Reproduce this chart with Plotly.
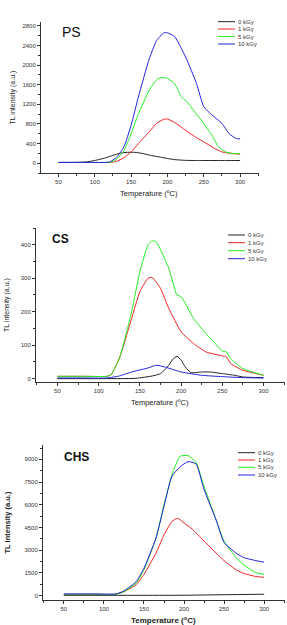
import plotly.graph_objects as go

W, H = 287, 625

# ---------------- Data ----------------
labels = ["0 kGy", "1 kGy", "5 kGy", "10 kGy"]
colors = ["#222222", "#ee2222", "#22ee22", "#2222dd"]

# PS
ps_T0 = [50, 75, 88, 100, 115, 125, 135, 145, 155, 165, 175, 190, 200, 212, 225, 240, 260, 280, 300]
ps_I0 = [15, 18, 25, 55, 110, 160, 205, 222, 222, 200, 165, 125, 95, 70, 58, 55, 55, 55, 55]
ps_T1 = [50, 80, 110, 124, 130, 140, 150, 160, 175, 185, 195, 200, 210, 225, 240, 250, 265, 275, 290, 300]
ps_I1 = [15, 15, 15, 18, 40, 110, 230, 400, 640, 810, 895, 900, 830, 670, 520, 435, 300, 230, 195, 185]
ps_T5 = [50, 80, 110, 122, 130, 140, 150, 160, 175, 185, 192, 200, 210, 218, 222, 225, 240, 250, 260, 270, 280, 290, 300]
ps_I5 = [15, 15, 15, 20, 80, 250, 605, 1000, 1490, 1700, 1750, 1730, 1620, 1380, 1310, 1285, 1000, 810, 600, 340, 230, 200, 195]
ps_T10 = [50, 80, 110, 120, 130, 140, 150, 160, 175, 185, 195, 200, 210, 225, 240, 250, 260, 275, 285, 295, 300]
ps_I10 = [15, 15, 15, 22, 120, 330, 775, 1350, 2130, 2500, 2660, 2660, 2580, 2165, 1625, 1150, 1000, 810, 600, 500, 500]

# CS
cs_T0 = [50, 100, 145, 165, 175, 185, 190, 195, 200, 205, 212, 225, 235, 250, 265, 275, 300]
cs_I0 = [0, 0, 1, 8, 15, 40, 58, 67, 55, 35, 18, 20, 20, 15, 10, 5, 3]
cs_T1 = [50, 80, 110, 115, 125, 140, 150, 160, 165, 175, 185, 200, 215, 230, 250, 255, 260, 275, 300]
cs_I1 = [7, 7, 7, 12, 60, 180, 260, 300, 302, 270, 210, 140, 105, 80, 68, 65, 45, 25, 10]
cs_T5 = [50, 80, 110, 115, 125, 140, 150, 160, 165, 170, 185, 195, 200, 215, 230, 245, 250, 255, 260, 275, 300]
cs_I5 = [7, 7, 7, 12, 60, 200, 320, 400, 412, 408, 330, 250, 245, 180, 135, 95, 82, 80, 60, 30, 10]
cs_T10 = [50, 80, 110, 125, 140, 160, 170, 180, 200, 225, 250, 275, 300]
cs_I10 = [2, 2, 2, 8, 20, 32, 40, 35, 20, 10, 6, 3, 2]

# CHS
chs_T0 = [50, 150, 200, 250, 300]
chs_I0 = [10, 10, 15, 50, 80]
chs_T1 = [50, 90, 115, 125, 140, 150, 165, 175, 185, 192, 200, 210, 225, 250, 265, 275, 290, 300]
chs_I1 = [80, 80, 80, 250, 700, 1400, 2800, 4000, 4900, 5100, 4800, 4400, 3600, 2300, 1700, 1450, 1250, 1200]
chs_T5 = [50, 90, 115, 125, 140, 150, 165, 175, 185, 195, 205, 215, 225, 240, 250, 265, 275, 290, 300]
chs_I5 = [80, 80, 80, 250, 800, 1700, 3800, 6000, 8000, 9200, 9250, 8800, 7200, 5000, 3600, 2500, 2000, 1500, 1400]
chs_T10 = [50, 90, 115, 125, 140, 150, 165, 175, 185, 195, 205, 215, 225, 240, 250, 265, 275, 290, 300]
chs_I10 = [100, 100, 100, 300, 900, 1800, 3800, 5900, 7900, 8500, 8850, 8700, 7000, 5000, 3500, 2800, 2500, 2300, 2200]

panels = [
    dict(name="PS", bold=False, series=[(ps_T0, ps_I0), (ps_T1, ps_I1), (ps_T5, ps_I5), (ps_T10, ps_I10)],
         xr=[26, 326], yr=[-200, 2880], dtick=400, xpx=(41, 259), ypx=(22, 173)),
    dict(name="CS", bold=True, series=[(cs_T0, cs_I0), (cs_T1, cs_I1), (cs_T5, cs_I5), (cs_T10, cs_I10)],
         xr=[24, 326], yr=[-10, 450], dtick=100, xpx=(36, 285), ypx=(228, 382)),
    dict(name="CHS", bold=True, series=[(chs_T0, chs_I0), (chs_T1, chs_I1), (chs_T5, chs_I5), (chs_T10, chs_I10)],
         xr=[24, 326], yr=[-300, 9950], dtick=1500, xpx=(43, 285), ypx=(445, 600)),
]

FONT = "Liberation Sans, Arial, sans-serif"
fig = go.Figure()
annotations = []
shapes = []

def px2x(p):
    return p / W

def px2y(p):
    return 1 - p / H

leg_pos = [
    dict(x0=218, x1=235, rows=[21.7, 29, 36.5, 44]),
    dict(x0=228, x1=245, rows=[235, 242.7, 250.7, 258.7]),
    dict(x0=238, x1=255, rows=[452.7, 460, 467.3, 475]),
]
label_pos = [(60, 32, 14), (50, 239, 12), (62, 457, 12)]
xtitle_y = [193, 402, 620]
ytitle_x = [12, 7, 7]

for i, p in enumerate(panels):
    sfx = "" if i == 0 else str(i + 1)
    xa = "x" + sfx
    ya = "y" + sfx
    for j, (t, v) in enumerate(p["series"]):
        fig.add_trace(go.Scatter(x=t, y=v, mode="lines",
                                 line=dict(color=colors[j], width=1, shape="spline", smoothing=0.5),
                                 xaxis=xa, yaxis=ya, showlegend=False, name=labels[j]))
    tick_font = dict(family=FONT, size=6, color="#333333")
    title_txt_x = "Temperature (<sup>o</sup>C)"
    title_txt_y = "TL intensity (a.u.)"
    if i == 2:
        title_txt_x = "<b>" + title_txt_x + "</b>"
        title_txt_y = "<b>" + title_txt_y + "</b>"
    axis_common = dict(showline=True, linecolor="#333333", linewidth=1, ticks="outside", ticklen=3,
                       tickcolor="#333333", tickwidth=1, showgrid=False, zeroline=False, tickfont=tick_font,
                       tickformat="d", exponentformat="none")
    fig.update_layout(**{
        "xaxis" + sfx: dict(axis_common, domain=[px2x(p["xpx"][0]), px2x(p["xpx"][1])], range=p["xr"],
                            tick0=50, dtick=50, anchor=ya,
                            minor=dict(ticks="outside", ticklen=2, tickcolor="#333333", dtick=25, tick0=25, showgrid=False)),
        "yaxis" + sfx: dict(axis_common, domain=[px2y(p["ypx"][1]), px2y(p["ypx"][0])], range=p["yr"],
                            tick0=0, dtick=p["dtick"], anchor=xa,
                            minor=dict(ticks="outside", ticklen=2, tickcolor="#333333", dtick=p["dtick"] / 2, tick0=0, showgrid=False)),
    })
    xc = (p["xpx"][0] + p["xpx"][1]) / 2
    annotations.append(dict(text=title_txt_x, x=px2x(xc - 1), y=px2y(xtitle_y[i]), xref="paper", yref="paper",
                            showarrow=False, font=dict(family=FONT, size=8 if i == 2 else 7.5, color="#222222"),
                            xanchor="center", yanchor="middle"))
    yc = (p["ypx"][0] + p["ypx"][1]) / 2
    annotations.append(dict(text=title_txt_y, x=px2x(ytitle_x[i]), y=px2y(yc), xref="paper", yref="paper",
                            showarrow=False, textangle=-90,
                            font=dict(family=FONT, size=7.5 if i == 2 else 7, color="#222222"),
                            xanchor="center", yanchor="middle"))
    lx, ly, ls = label_pos[i]
    txt = "<b>" + p["name"] + "</b>" if p["bold"] else p["name"]
    annotations.append(dict(text=txt, x=px2x(lx), y=px2y(ly), xref="paper", yref="paper", showarrow=False,
                            font=dict(family=FONT, size=ls, color="#111111"), xanchor="left", yanchor="middle"))
    lp = leg_pos[i]
    for j in range(4):
        yy = px2y(lp["rows"][j])
        shapes.append(dict(type="line", xref="paper", yref="paper", x0=px2x(lp["x0"]), x1=px2x(lp["x1"]),
                           y0=yy, y1=yy, line=dict(color=colors[j], width=1)))
        annotations.append(dict(text=labels[j], x=px2x(lp["x1"] + 1), y=yy, xref="paper", yref="paper",
                                showarrow=False, font=dict(family=FONT, size=6, color="#333333"),
                                xanchor="left", yanchor="middle"))

fig.update_layout(width=W, height=H, margin=dict(l=0, r=0, t=0, b=0), plot_bgcolor="white",
                  paper_bgcolor="white", annotations=annotations, shapes=shapes, showlegend=False)
fig.write_html("out.html")
